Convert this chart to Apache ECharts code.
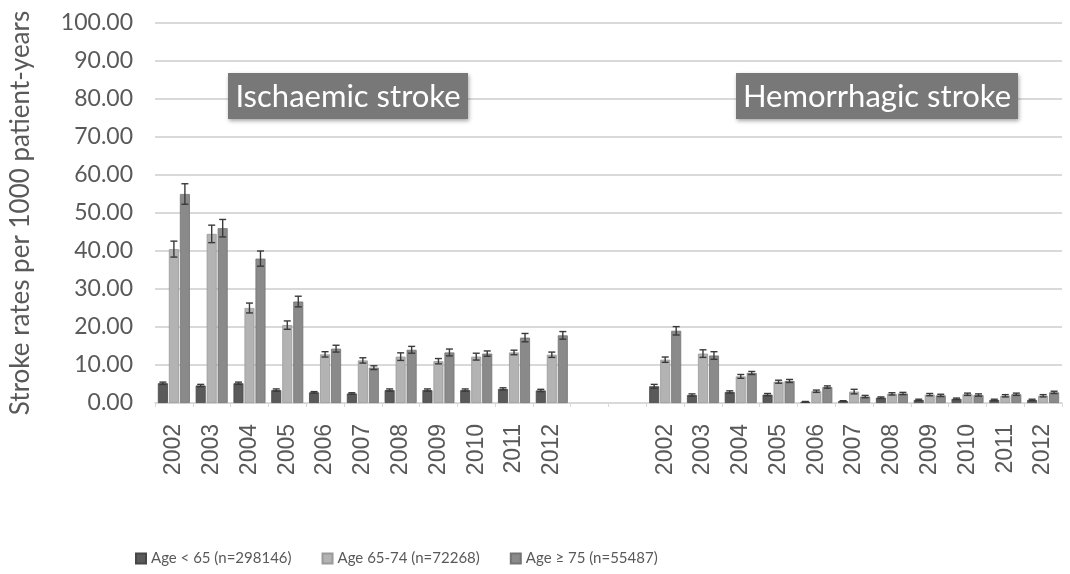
<!DOCTYPE html>
<html>
<head>
<meta charset="utf-8">
<script src="https://cdn.jsdelivr.net/npm/echarts@6/dist/echarts.min.js"></script>
<style>
  html, body { margin: 0; padding: 0; background: #fff; }
  #chart { width: 1070px; height: 574px; }
</style>
</head>
<body>
<div id="chart"></div>
<script>
  // years per panel
  var years = ['2002', '2003', '2004', '2005', '2006', '2007', '2008', '2009', '2010', '2011', '2012'];
  var seriesNames = ['Age < 65 (n=298146)', 'Age 65-74 (n=72268)', 'Age \u2265 75 (n=55487)'];
  var yTicks = [0, 10, 20, 30, 40, 50, 60, 70, 80, 90, 100];

  // Ischaemic stroke rates
  var isch65 = [5.2, 4.6, 5.2, 3.4, 2.8, 2.5, 3.4, 3.4, 3.4, 3.7, 3.3];
  var isch6574 = [40.5, 44.5, 25.0, 20.5, 12.8, 11.2, 12.2, 11.0, 12.2, 13.3, 12.7];
  var isch75 = [55.0, 46.0, 38.0, 26.7, 14.3, 9.3, 14.0, 13.3, 13.0, 17.2, 17.8];
  var ischErr65 = [0.3, 0.3, 0.3, 0.3, 0.2, 0.2, 0.3, 0.3, 0.3, 0.3, 0.3];
  var ischErr6574 = [2.1, 2.3, 1.3, 1.1, 0.7, 0.7, 1.0, 0.7, 0.9, 0.6, 0.7];
  var ischErr75 = [2.7, 2.3, 2.0, 1.4, 0.9, 0.5, 0.9, 0.9, 0.7, 1.1, 1.0];

  // Hemorrhagic stroke rates
  var hem65 = [4.4, 2.1, 2.9, 2.2, 0.3, 0.5, 1.4, 0.8, 1.1, 0.8, 0.8];
  var hem6574 = [11.4, 13.0, 7.0, 5.6, 3.1, 3.0, 2.4, 2.2, 2.3, 1.9, 1.9];
  var hem75 = [19.0, 12.5, 7.9, 5.8, 4.2, 1.7, 2.5, 2.0, 2.1, 2.3, 2.8];
  var hemErr65 = [0.5, 0.3, 0.3, 0.3, 0.1, 0.1, 0.2, 0.2, 0.2, 0.2, 0.2];
  var hemErr6574 = [0.7, 1.0, 0.5, 0.4, 0.3, 0.6, 0.3, 0.3, 0.3, 0.3, 0.3];
  var hemErr75 = [1.1, 1.0, 0.4, 0.4, 0.3, 0.3, 0.3, 0.3, 0.3, 0.3, 0.3];

  var gapCats = ['', ''];
  var categories = years.concat(gapCats, years);
  var gapVals = gapCats.map(function () { return '-'; });

  var colors = ['#5a5a5a', '#b3b3b3', '#8a8a8a'];
  var borders = ['#474747', '#9a9a9a', '#747474'];
  var barW = 10, barGapPx = 1;

  var values = [
    isch65.concat(gapVals, hem65),
    isch6574.concat(gapVals, hem6574),
    isch75.concat(gapVals, hem75)
  ];
  var errors = [
    ischErr65.concat(gapVals, hemErr65),
    ischErr6574.concat(gapVals, hemErr6574),
    ischErr75.concat(gapVals, hemErr75)
  ];

  var series = [];
  values.forEach(function (vals, i) {
    series.push({
      name: seriesNames[i],
      type: 'bar',
      barWidth: barW,
      barGap: '10%',
      data: vals,
      itemStyle: { color: colors[i], borderColor: borders[i], borderWidth: 0.8 }
    });
  });

  // error bars
  values.forEach(function (vals, i) {
    var data = [];
    vals.forEach(function (v, k) {
      if (v !== '-') data.push([k, v, errors[i][k]]);
    });
    var offset = (i - 1) * (barW + barGapPx);
    series.push({
      name: seriesNames[i],
      type: 'custom',
      z: 5,
      silent: true,
      data: data,
      renderItem: function (params, api) {
        var idx = api.value(0), v = api.value(1), e = api.value(2);
        var hi = api.coord([idx, v + e]);
        var lo = api.coord([idx, v - e]);
        var x = hi[0] + offset;
        var cap = 3.5;
        var st = { stroke: '#3a3a3a', lineWidth: 1.4 };
        return {
          type: 'group',
          children: [
            { type: 'line', shape: { x1: x, y1: hi[1], x2: x, y2: lo[1] }, style: st },
            { type: 'line', shape: { x1: x - cap, y1: hi[1], x2: x + cap, y2: hi[1] }, style: st },
            { type: 'line', shape: { x1: x - cap, y1: lo[1], x2: x + cap, y2: lo[1] }, style: st }
          ]
        };
      }
    });
  });

  function titleBox(label, left, width) {
    return {
      type: 'group', left: left, top: 73, z: 100,
      children: [
        { type: 'rect', z: 100, shape: { width: width, height: 46 },
          style: { fill: '#787878', shadowBlur: 4, shadowColor: 'rgba(0,0,0,0.35)', shadowOffsetX: 1, shadowOffsetY: 2 } },
        { type: 'text', z: 101, x: width / 2, y: 24,
          style: { text: label, fill: '#fff', font: '31px Lato', align: 'center', verticalAlign: 'middle' } }
      ]
    };
  }

  var myChart = echarts.init(document.getElementById('chart'));
  myChart.setOption({
    animation: false,
    grid: { left: 150, right: 8, top: 23, bottom: 171 },
    legend: {
      data: seriesNames,
      left: 130,
      top: 546,
      icon: 'rect',
      itemWidth: 10,
      itemHeight: 10,
      itemGap: 30,
      textStyle: { fontFamily: 'Lato', fontSize: 15, color: '#595959' }
    },
    xAxis: {
      type: 'category',
      data: categories,
      axisLine: { lineStyle: { color: '#d9d9d9', width: 1.5 } },
      axisTick: { show: true, length: 4, lineStyle: { color: '#d9d9d9' } },
      axisLabel: {
        interval: 0,
        rotate: 90,
        margin: 21,
        fontFamily: 'Liberation Sans',
        fontSize: 23,
        color: '#595959'
      }
    },
    yAxis: {
      type: 'value',
      min: yTicks[0],
      max: yTicks[yTicks.length - 1],
      interval: 10,
      name: 'Stroke rates per 1000 patient-years',
      nameLocation: 'middle',
      nameGap: 121,
      nameTextStyle: { fontFamily: 'Lato', fontSize: 26, color: '#595959' },
      axisLine: { show: false },
      axisTick: { show: false },
      splitLine: { lineStyle: { color: '#d9d9d9', width: 2 } },
      axisLabel: {
        margin: 22,
        fontFamily: 'Lato',
        fontSize: 23,
        color: '#595959',
        formatter: function (v) { return v.toFixed(2); }
      }
    },
    graphic: [
      titleBox('Ischaemic stroke', 228, 240),
      titleBox('Hemorrhagic stroke', 736, 282)
    ],
    series: series
  });
</script>
</body>
</html>
